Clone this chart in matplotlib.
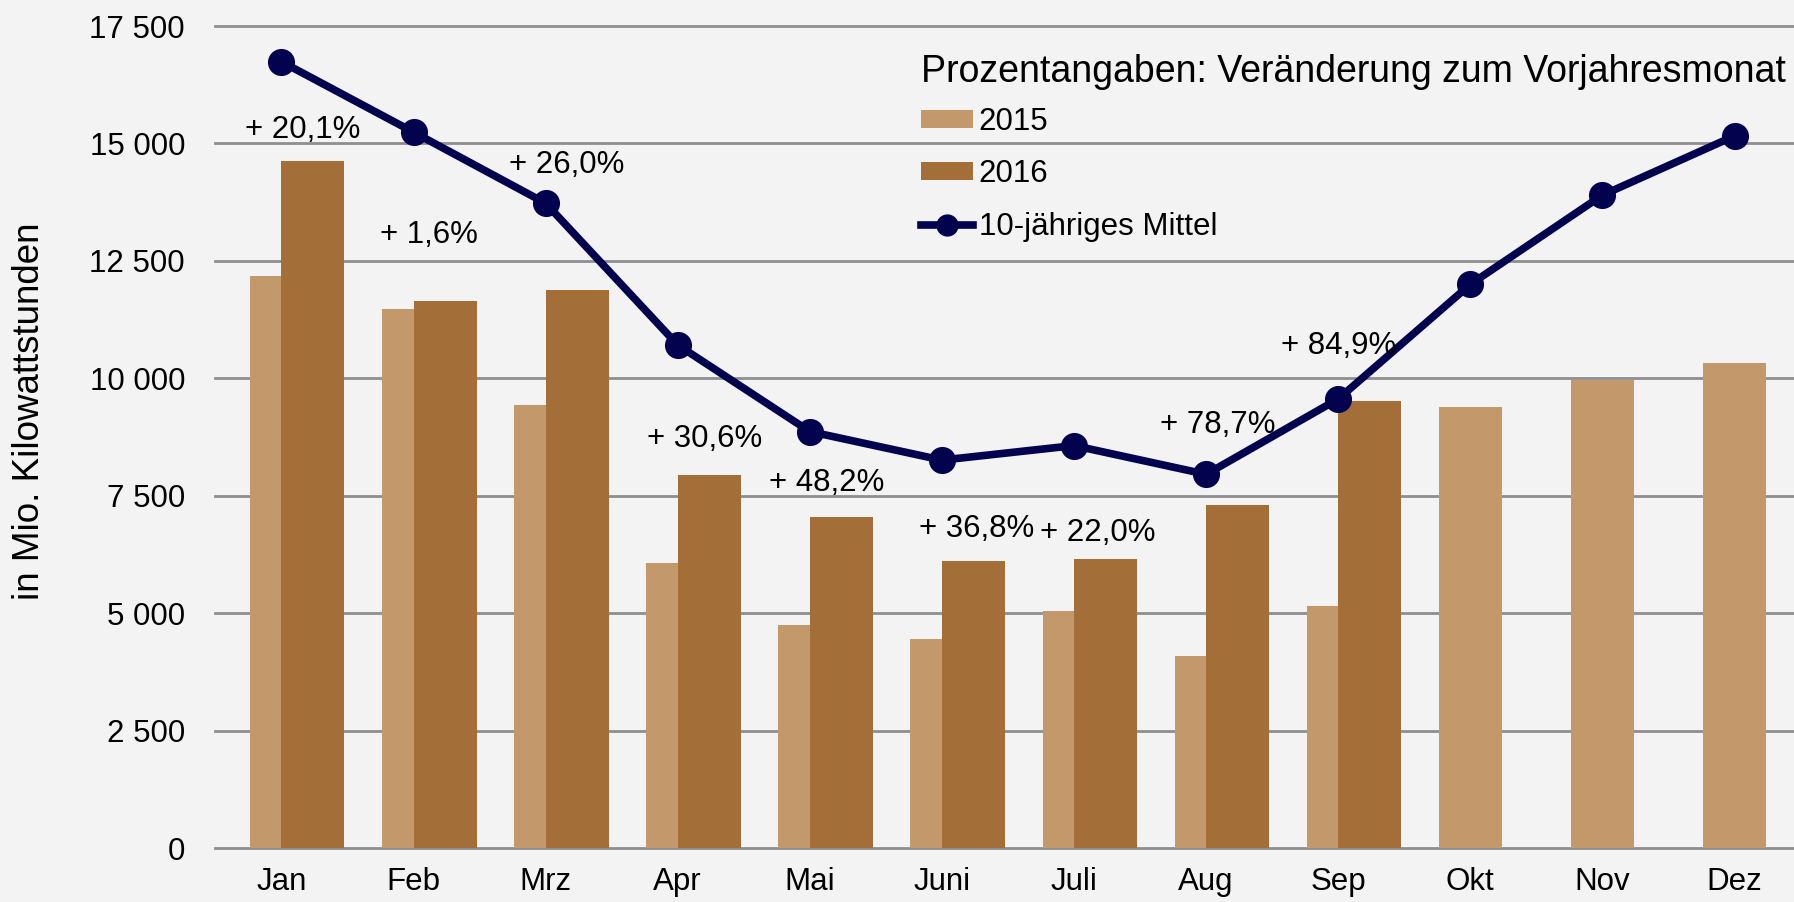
import numpy as np
import matplotlib
matplotlib.use("Agg")
import matplotlib.pyplot as plt
from matplotlib.patches import Patch
from matplotlib.lines import Line2D
from matplotlib.ticker import FuncFormatter, MultipleLocator

plt.rcParams['font.family'] = ['Liberation Sans', 'DejaVu Sans']

# ---- data ----
months = ["Jan", "Feb", "Mrz", "Apr", "Mai", "Juni", "Juli", "Aug", "Sep", "Okt", "Nov", "Dez"]
values_2015 = [12180, 11465, 9430, 6075, 4748, 4460, 5045, 4090, 5145, 9385, 9965, 10320]
values_2016 = [14620, 11650, 11885, 7940, 7040, 6100, 6155, 7310, 9510]
mean_10y = [16740, 15240, 13727, 10709, 8866, 8258, 8567, 7956, 9560, 12000, 13900, 15160]
pct_labels = ["+ 20,1%", "+ 1,6%", "+ 26,0%", "+ 30,6%", "+ 48,2%", "+ 36,8%", "+ 22,0%", "+ 78,7%", "+ 84,9%"]

series_names = ["2015", "2016", "10-jähriges Mittel"]
legend_title = "Prozentangaben: Veränderung zum Vorjahresmonat"
y_label = "in Mio. Kilowattstunden"

# ---- layout / style ----
label_pos_x = [0.160, 1.120, 2.157, 3.204, 4.124, 5.265, 6.177, 7.088, 8.005]
label_pos_y = [15110, 12887, 14364, 8544, 7607, 6628, 6543, 8842, 10517]

bg = "#F3F3F3"
c15 = "#C3996C"
c16 = "#A36E37"
cline = "#02024F"
cgrid = "#8E8E8E"

W, H = 1794, 902
fig = plt.figure(figsize=(W / 100, H / 100), dpi=100, facecolor=bg)
ax_l, ax_r, ax_t, ax_b = 215, 1794, 26, 848
ax = fig.add_axes([ax_l / W, (H - ax_b) / H, (ax_r - ax_l) / W, (ax_b - ax_t) / H])
ax.set_facecolor(bg)

x = np.arange(len(months))
bw = 0.477
ax.bar(x, values_2015, width=bw, color=c15, zorder=2)
ax.bar(x[:len(values_2016)] + bw / 2, values_2016, width=bw, color=c16, zorder=3)
ax.plot(x, mean_10y, color=cline, lw=5.5, marker='o', markersize=18.5, zorder=5)

for s, px, py in zip(pct_labels, label_pos_x, label_pos_y):
    ax.text(px, py, s, ha='center', va='baseline', fontsize=22.5, color='black', zorder=6)

ax.set_xlim(-0.503, 11.45)
ax.set_ylim(0, 17500)
ax.yaxis.set_major_locator(MultipleLocator(2500))
ax.yaxis.set_major_formatter(FuncFormatter(lambda v, p: f"{int(v):,}".replace(",", " ")))
ax.set_xticks(x)
ax.set_xticklabels(months)
ax.tick_params(axis='y', length=0, labelsize=22.5, pad=21.6)
ax.tick_params(axis='x', length=0, labelsize=22.5, pad=14)

for sp in ax.spines.values():
    sp.set_visible(False)
ax.grid(axis='y', color=cgrid, lw=2.0, zorder=1)
ax.set_axisbelow(True)
for gl in ax.get_ygridlines():
    gl.set_clip_on(False)

fig.text(30 / W, 1 - 411.7 / H, y_label, rotation=90, ha='center', va='center', fontsize=26.5)

handles = [Patch(facecolor=c15, edgecolor='none'),
           Patch(facecolor=c16, edgecolor='none'),
           Line2D([0], [0], color=cline, lw=5.5, marker='o', markersize=15)]
leg = ax.legend(handles, series_names, title=legend_title, loc='upper left',
                bbox_to_anchor=(921 / W, 1 - 54 / H), bbox_transform=fig.transFigure,
                frameon=False, alignment='left', fontsize=22.5, title_fontsize=27,
                handlelength=1.66, handleheight=0.51, handletextpad=0.18,
                labelspacing=0.72, borderpad=0, borderaxespad=0)
leg._legend_box.sep = 12.0
leg.set_zorder(7)

fig.savefig("out.png", dpi=100, facecolor=bg)
